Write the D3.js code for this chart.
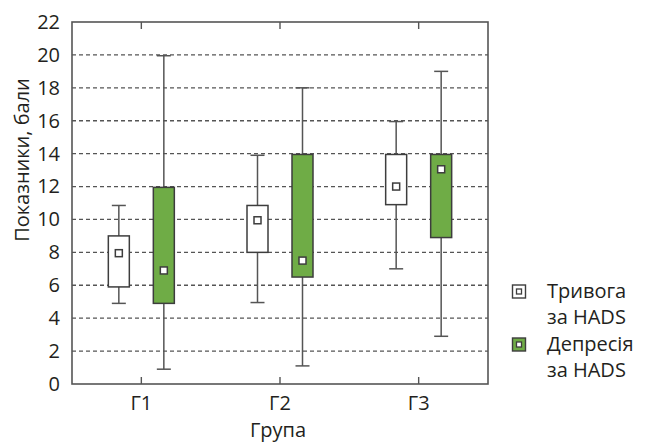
<!DOCTYPE html>
<html><head><meta charset="utf-8">
<script src="https://cdn.jsdelivr.net/npm/d3@7"></script>
<style>body{margin:0;background:#fff}svg{display:block}text{font-family:"Open Sans",sans-serif;fill:#231f20}</style>
</head><body><svg id="c" width="646" height="443"></svg>
<script>
const groups = ["Г1","Г2","Г3"];
const seriesNames = ["Тривога за HADS","Депресія за HADS"];
// [whiskerLow, q1, median, q3, whiskerHigh]
const anxiety = [[4.9,5.9,7.95,9.0,10.85],[4.95,8.0,9.95,10.85,13.9],[7.0,10.9,12.0,13.95,15.95]];
const depression = [[0.9,4.9,6.9,11.95,19.95],[1.1,6.5,7.5,13.95,18.0],[2.9,8.9,13.05,13.95,19.0]];
const yTicks = [0,2,4,6,8,10,12,14,16,18,20,22];

const FS = 20;
const svg = d3.select("#c");
const L=72,R=488,T=22,B=384;
const x = d3.scaleBand().domain(groups).range([L,R]).padding(0);
const y = d3.scaleLinear().domain([0,22]).range([B,T]);
const fills = ["#ffffff","#6fac46"];
const stroke="#3d3d3d";
const off = [-22.5,22.5];

// gridlines
svg.append("g").selectAll("line").data(yTicks.filter(v=>v>0&&v<22)).join("line")
 .attr("x1",L).attr("x2",R).attr("y1",d=>y(d)).attr("y2",d=>y(d))
 .attr("stroke","#555").attr("stroke-width",1.3).attr("stroke-dasharray","4,3");

// axes
const ax = svg.append("g").attr("transform",`translate(${L},0)`)
 .call(d3.axisLeft(y).tickValues(yTicks).tickSize(0).tickPadding(12));
ax.select(".domain").remove();
ax.selectAll("text").attr("font-size",FS).attr("font-family","Open Sans").attr("fill","#231f20");
const bx = svg.append("g").attr("transform",`translate(0,${B})`)
 .call(d3.axisBottom(x).tickSize(0).tickPadding(12));
bx.select(".domain").remove();
bx.selectAll("text").attr("font-size",FS).attr("font-family","Open Sans").attr("fill","#231f20");

// frame
svg.append("rect").attr("x",L).attr("y",T).attr("width",R-L).attr("height",B-T)
 .attr("fill","none").attr("stroke","#555").attr("stroke-width",1.6);
groups.forEach(g=>{
  const cx=x(g)+x.bandwidth()/2;
  svg.append("line").attr("x1",cx).attr("x2",cx).attr("y1",B).attr("y2",B-7).attr("stroke","#555").attr("stroke-width",1.4);
  svg.append("line").attr("x1",cx).attr("x2",cx).attr("y1",T).attr("y2",T+7).attr("stroke","#555").attr("stroke-width",1.4);
});

// boxes
[anxiety,depression].forEach((ser,si)=>{
  ser.forEach((d,gi)=>{
    const cx = x(groups[gi])+x.bandwidth()/2+off[si];
    const g = svg.append("g");
    const [lo,q1,med,q3,hi]=d;
    g.append("line").attr("x1",cx).attr("x2",cx).attr("y1",y(hi)).attr("y2",y(lo)).attr("stroke","#555").attr("stroke-width",1.5);
    [lo,hi].forEach(v=>g.append("line").attr("x1",cx-7).attr("x2",cx+7).attr("y1",y(v)).attr("y2",y(v)).attr("stroke","#555").attr("stroke-width",1.5));
    g.append("rect").attr("x",cx-10.5).attr("width",21).attr("y",y(q3)).attr("height",y(q1)-y(q3))
     .attr("fill",fills[si]).attr("stroke",stroke).attr("stroke-width",1.5);
    g.append("rect").attr("x",cx-3.5).attr("y",y(med)-3.5).attr("width",7).attr("height",7)
     .attr("fill","#fff").attr("stroke",stroke).attr("stroke-width",1.5);
  });
});

// axis titles
svg.append("text").attr("transform","translate(24,160) rotate(-90)").attr("text-anchor","middle")
 .attr("dominant-baseline","middle").attr("font-size",FS).text("Показники, бали");
svg.append("text").attr("x",278).attr("y",437).attr("text-anchor","middle").attr("font-size",FS).text("Група");

// legend
const lg = svg.append("g");
seriesNames.forEach((n,i)=>{
  const yy = 285 + i*53;
  lg.append("rect").attr("x",512.5).attr("y",yy).attr("width",13).attr("height",13).attr("fill",fills[i]).attr("stroke",stroke).attr("stroke-width",1.4);
  lg.append("rect").attr("x",516.5).attr("y",yy+4).attr("width",5).attr("height",5).attr("fill","#fff").attr("stroke",stroke).attr("stroke-width",1.3);
  const parts = n.split(" ");
  const t = lg.append("text").attr("x",547).attr("y",yy+13).attr("font-size",FS);
  t.append("tspan").attr("x",547).text(parts[0]);
  t.append("tspan").attr("x",547).attr("dy",26).text(parts.slice(1).join(" "));
});
</script></body></html>
